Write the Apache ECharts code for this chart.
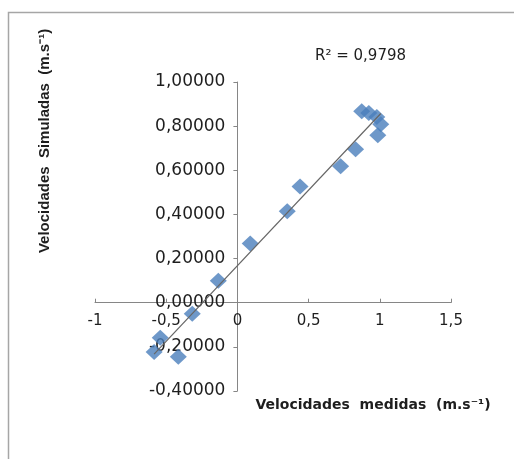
<!DOCTYPE html>
<html>
<head>
<meta charset="utf-8">
<script src="https://cdn.jsdelivr.net/npm/echarts@6/dist/echarts.min.js"></script>
<style>html,body{margin:0;padding:0;background:#fff}#c{width:514px;height:459px}</style>
</head>
<body>
<div id="c"></div>
<script>
var medidas   = [-0.585, -0.542, -0.415, -0.317, -0.134, 0.09, 0.35, 0.44, 0.725, 0.83, 0.873, 0.923, 0.979, 1.007, 0.986];
var simuladas = [-0.223, -0.159, -0.245, -0.05, 0.10, 0.268, 0.414, 0.527, 0.618, 0.695, 0.868, 0.859, 0.841, 0.809, 0.759];
var r2Label = "R² = 0,9798";
var xTitle = "Velocidades  medidas  (m.s⁻¹)";
var yTitle = "Velocidades  Simuladas  (m.s⁻¹)";

var points = medidas.map(function (x, i) { return [x, simuladas[i]]; });
// linear least-squares trendline (as Excel draws it, from min x to max x)
var n = medidas.length, sx = 0, sy = 0, sxx = 0, sxy = 0;
for (var i = 0; i < n; i++) { sx += medidas[i]; sy += simuladas[i]; sxx += medidas[i]*medidas[i]; sxy += medidas[i]*simuladas[i]; }
var slope = (n*sxy - sx*sy) / (n*sxx - sx*sx);
var icpt = (sy - slope*sx) / n;
var xmin = Math.min.apply(null, medidas), xmax = Math.max.apply(null, medidas);
var trend = [[xmin, icpt + slope*xmin], [xmax, icpt + slope*xmax]];

function comma(v, d) { return v.toFixed(d).replace('.', ','); }

var GRID = {left: 95, right: 63, top: 82, bottom: 68};
var chart = echarts.init(document.getElementById('c'), null, {renderer: 'canvas'});
chart.setOption({
  animation: false,
  backgroundColor: '#fff',
  grid: GRID,
  xAxis: {
    type: 'value', min: -1, max: 1.5, interval: 0.5, offset: 0,
    axisLine: {onZero: false, lineStyle: {color: '#868686', width: 1}},
    axisTick: {show: true, inside: true, length: 4, lineStyle: {color: '#868686'}},
    splitLine: {show: false},
    axisLabel: {margin: 11, fontFamily: 'DejaVu Sans', fontSize: 15, color: '#1e1e1e',
      formatter: function (v) { return v === 0 ? '0' : (Number.isInteger(v) ? String(v) : comma(v, 1)); }}
  },
  yAxis: {
    type: 'value', min: -0.4, max: 1.0, interval: 0.2, offset: 0,
    axisLine: {show: true, onZero: false, lineStyle: {color: '#868686', width: 1}},
    axisTick: {show: true, inside: false, length: 4, lineStyle: {color: '#868686'}},
    splitLine: {show: false},
    axisLabel: {margin: 12, fontFamily: 'DejaVu Sans', fontSize: 17, color: '#1e1e1e',
      formatter: function (v) { return comma(v, 5); }}
  },
  series: [
    {type: 'line', data: trend, symbol: 'none', silent: true, z: 3,
     lineStyle: {color: '#666666', width: 1.2}},
    {type: 'scatter', data: points, symbol: 'diamond', symbolSize: [17, 16], z: 2,
     itemStyle: {color: '#4A7EBB'}}
  ],
  graphic: [
    {type: 'rect', shape: {x: 8.5, y: 12.5, width: 530, height: 470}, style: {fill: null, stroke: '#a6a6a6', lineWidth: 1.5}, silent: true},
    {type: 'text', x: 315, y: 56, style: {text: r2Label, fontFamily: 'DejaVu Sans', fontSize: 15, fill: '#1e1e1e', textVerticalAlign: 'middle'}},
    {type: 'text', x: 373, y: 405, style: {text: xTitle, fontFamily: 'DejaVu Sans', fontWeight: 'bold', fontSize: 14, fill: '#1e1e1e', textAlign: 'center', textVerticalAlign: 'middle'}},
    {type: 'text', x: 45, y: 141, rotation: Math.PI/2, style: {text: yTitle, fontFamily: 'Liberation Sans', fontWeight: 'bold', fontSize: 15, fill: '#1e1e1e', textAlign: 'center', textVerticalAlign: 'middle'}}
  ]
});
// move both axes (with their labels) so that they cross at the origin, as in the original
var origin = chart.convertToPixel({gridIndex: 0}, [0, 0]);
chart.setOption({
  xAxis: {offset: -((459 - GRID.bottom) - origin[1])},
  yAxis: {offset: -(origin[0] - GRID.left)}
});
</script>
</body>
</html>
